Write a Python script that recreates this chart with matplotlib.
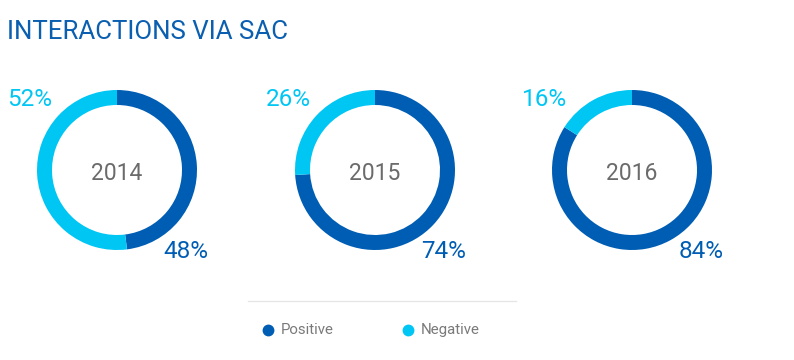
import matplotlib
matplotlib.use("Agg")
import matplotlib.pyplot as plt

# data
years = ["2014", "2015", "2016"]
positive = [48, 74, 84]
negative = [52, 26, 16]
series_names = ["Positive", "Negative"]

DARK = "#005db4"
LIGHT = "#00c6f4"
W, H = 794, 360

plt.rcParams['font.family'] = ['Roboto', 'DejaVu Sans']

fig = plt.figure(figsize=(W / 100, H / 100), dpi=100)
ax = fig.add_axes([0, 0, 1, 1])

cx = [117, 375, 632]
cy = H - 170
r = 80

for i, yr in enumerate(years):
    ax.pie([positive[i], negative[i]], colors=[DARK, LIGHT], center=(cx[i], cy),
           radius=r, startangle=90, counterclock=False,
           wedgeprops=dict(width=15, linewidth=0))
    ax.text(cx[i], cy - 3, yr, ha="center", va="center", fontsize=16.5,
            color="#6b6b6b")
    ax.text(cx[i] - 87, cy + 71, f"{negative[i]}%", ha="center", va="center",
            fontsize=17.5, color=LIGHT)
    ax.text(cx[i] + 69, cy - 81, f"{positive[i]}%", ha="center", va="center",
            fontsize=17.5, color=DARK)

ax.text(7, H - 32, "INTERACTIONS VIA SAC", ha="left", va="center",
        fontsize=18.6, color="#0a5fb0")

# legend
ax.plot([248, 516], [H - 301, H - 301], color="#e6e6e6", lw=1)
for x0, name, col in zip([268, 408], series_names, [DARK, LIGHT]):
    ax.plot(x0, H - 330, "o", color=col, markersize=7.5)
    ax.text(x0 + 13, H - 330, name, ha="left", va="center", fontsize=10.8,
            color="#7a7a7a")

ax.set_xlim(0, W)
ax.set_ylim(0, H)
ax.set_aspect("equal")
ax.axis("off")

fig.savefig("out.png", dpi=100)
